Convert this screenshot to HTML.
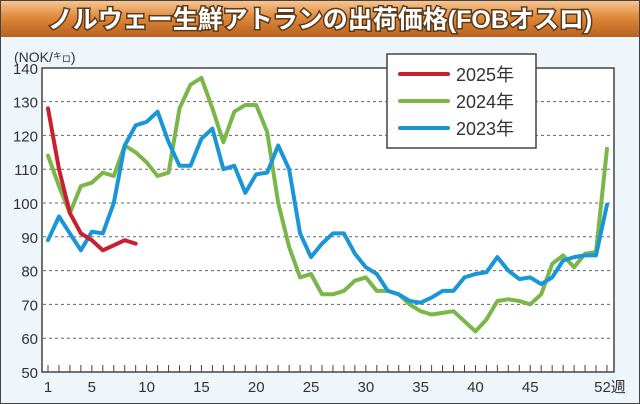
<!DOCTYPE html>
<html><head><meta charset="utf-8"><style>
body{margin:0;width:640px;height:404px;overflow:hidden;background:#eef5fb;font-family:"Liberation Sans","Noto Sans CJK JP",sans-serif;}
</style></head><body>
<svg id="s" width="640" height="404" xmlns="http://www.w3.org/2000/svg" style="position:absolute;left:0;top:0">
<defs><linearGradient id="g" x1="0" y1="0" x2="0" y2="1">
<stop offset="0" stop-color="#f7c999"/><stop offset="0.45" stop-color="#e08a3c"/><stop offset="1" stop-color="#b8611e"/></linearGradient></defs>
<rect x="0" y="0" width="640" height="404" fill="#eef5fb"/>
<rect x="0" y="0" width="640" height="37" fill="url(#g)"/>
<rect x="0.5" y="0.5" width="639" height="403" fill="none" stroke="#444" stroke-width="1"/>
<text x="320" y="28" text-anchor="middle" font-size="25" font-weight="bold" fill="#fff" stroke="#5a3a1a" stroke-width="3" paint-order="stroke" font-family="Liberation Sans,Noto Sans CJK JP,sans-serif">ノルウェー生鮮アトランの出荷価格(FOBオスロ)</text>
<rect x="42" y="68" width="572" height="304" fill="#fff" stroke="#444" stroke-width="1.5"/>
<text x="14" y="62" font-size="14" fill="#333">(NOK/<tspan font-size="9" dy="-3">キ</tspan><tspan font-size="9" dy="3">ロ</tspan>)</text>
<g id="grid"></g>
<g id="lines" fill="none" stroke-width="4" stroke-linejoin="round" stroke-linecap="round"></g>
<rect x="387" y="54" width="149" height="94" fill="#fff" stroke="#444" stroke-width="1.5"/>
<line x1="400" y1="74" x2="448" y2="74" stroke="#c8202f" stroke-width="4" stroke-linecap="round"/>
<line x1="400" y1="101" x2="448" y2="101" stroke="#7ab648" stroke-width="4" stroke-linecap="round"/>
<line x1="400" y1="128" x2="448" y2="128" stroke="#1a96d8" stroke-width="4" stroke-linecap="round"/>
<text x="456" y="81" font-size="18" fill="#333">2025年</text>
<text x="456" y="108" font-size="18" fill="#333">2024年</text>
<text x="456" y="135" font-size="18" fill="#333">2023年</text>
</svg>
<script>
var ns="http://www.w3.org/2000/svg",s=document.getElementById('s');
function X(w){return 48+(w-1)*10.96}
function Y(v){return 372-(v-50)*3.38}
function el(t,a,p,txt){var e=document.createElementNS(ns,t);for(var k in a)e.setAttribute(k,a[k]);if(txt!=null)e.textContent=txt;(p||s).appendChild(e);return e}
var g=document.getElementById('grid');
for(var v=50;v<=140;v+=10){var y=Y(v);
 if(v>50&&v<140)el('line',{x1:43,x2:613,y1:y,y2:y,stroke:'#666','stroke-width':1,'stroke-dasharray':'3,3'},g);
 el('text',{x:38,y:y+6,'text-anchor':'end','font-size':15,fill:'#333'},g,v);}
for(var w=1;w<=52;w++){el('line',{x1:X(w),x2:X(w),y1:372,y2:365,stroke:'#444','stroke-width':1},g);}
[1,5,10,15,20,25,30,35,40,45].forEach(function(w){el('text',{x:X(w),y:392,'text-anchor':'middle','font-size':15,fill:'#333'},g,w)});
el('text',{x:X(52)+3,y:392,'text-anchor':'middle','font-size':15,fill:'#333'},g,'52週');
var d25=[128,110,97,91,89,86,87.5,89,88];
var d24=[114,105,97,105,106,109,108,117,115,112,108,109,128,135,137,128,118,127,129,129,121,100,87,78,79,73,73,74,77,78,74,74,73,70,68,67,67.5,68,65,62,65.5,71,71.5,71,70,73,82,84.5,81,85,85.5,116];
var d23=[89,96,91,86,91.5,91,100,117,123,124,127,118,111,111,119,122,110,111,103,108.5,109,117,110,91,84,88,91,91,85,81,79,74,73,71,70.5,72,74,74,78,79,79.5,84,80,77.5,78,76,78,83,84,84.5,84.5,99.5];
var L=document.getElementById('lines');
function pl(d,c){el('polyline',{points:d.map(function(v,i){return X(i+1).toFixed(1)+','+Y(v).toFixed(1)}).join(' '),stroke:c},L)}
pl(d24,'#7ab648');pl(d23,'#1a96d8');pl(d25,'#c8202f');
</script>
</body></html>
